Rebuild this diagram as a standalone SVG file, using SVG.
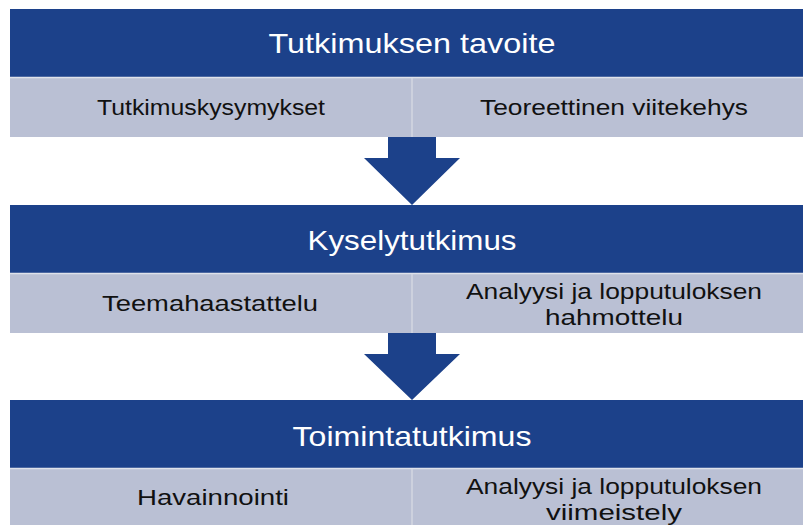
<svg xmlns="http://www.w3.org/2000/svg" width="803" height="525" viewBox="0 0 803 525">
  <style>
    .head { fill: #1c418a; }
    .sub { fill: #bac0d4; }
    .edge { stroke: #dfe2ea; stroke-width: 1.5; }
    .div { stroke: #d3d7e2; stroke-width: 1.5; }
    .arrow { fill: #1c418a; }
    .ht { font-family: "Liberation Sans", Arial, sans-serif; font-size: 28px; fill: #ffffff; text-anchor: middle; }
    .st { font-family: "Liberation Sans", Arial, sans-serif; font-size: 22px; fill: #111111; text-anchor: middle; }
  </style>
  <rect width="803" height="525" fill="#ffffff"/>

  <!-- Stage 1 -->
  <g id="stage1">
    <rect class="head" x="10" y="9" width="805" height="68"/>
    <rect class="sub" x="10" y="77" width="805" height="60"/>
    <line class="edge" x1="10" y1="77.5" x2="803" y2="77.5"/>
    <line class="div" x1="412" y1="78" x2="412" y2="137"/>
    <text class="ht" x="412" y="53" textLength="287" lengthAdjust="spacingAndGlyphs">Tutkimuksen tavoite</text>
    <text class="st" x="211" y="115" textLength="228" lengthAdjust="spacingAndGlyphs">Tutkimuskysymykset</text>
    <text class="st" x="614" y="115" textLength="268" lengthAdjust="spacingAndGlyphs">Teoreettinen viitekehys</text>
  </g>

  <!-- Stage 2 -->
  <g id="stage2">
    <rect class="head" x="10" y="205" width="805" height="68"/>
    <rect class="sub" x="10" y="273" width="805" height="60"/>
    <line class="edge" x1="10" y1="273.5" x2="803" y2="273.5"/>
    <line class="div" x1="412" y1="274" x2="412" y2="333"/>
    <text class="ht" x="412" y="250" textLength="209" lengthAdjust="spacingAndGlyphs">Kyselytutkimus</text>
    <text class="st" x="210" y="311" textLength="216" lengthAdjust="spacingAndGlyphs">Teemahaastattelu</text>
    <text class="st" x="614" y="299" textLength="296" lengthAdjust="spacingAndGlyphs">Analyysi ja lopputuloksen</text>
    <text class="st" x="614" y="325" textLength="138" lengthAdjust="spacingAndGlyphs">hahmottelu</text>
  </g>

  <!-- Stage 3 -->
  <g id="stage3">
    <rect class="head" x="10" y="400" width="805" height="68"/>
    <rect class="sub" x="10" y="468" width="805" height="60"/>
    <line class="edge" x1="10" y1="468.5" x2="803" y2="468.5"/>
    <line class="div" x1="412" y1="469" x2="412" y2="525"/>
    <text class="ht" x="412" y="446" textLength="239" lengthAdjust="spacingAndGlyphs">Toimintatutkimus</text>
    <text class="st" x="213" y="505" textLength="152" lengthAdjust="spacingAndGlyphs">Havainnointi</text>
    <text class="st" x="614" y="494" textLength="296" lengthAdjust="spacingAndGlyphs">Analyysi ja lopputuloksen</text>
    <text class="st" x="614" y="520" textLength="136" lengthAdjust="spacingAndGlyphs">viimeistely</text>
  </g>

  <!-- Connectors -->
  <g id="connectors">
    <polygon class="arrow" points="388,137 436,137 436,158 460,158 412,205 364,158 388,158"/>
    <polygon class="arrow" points="388,333 436,333 436,354 460,354 412,400 364,354 388,354"/>
  </g>
</svg>
